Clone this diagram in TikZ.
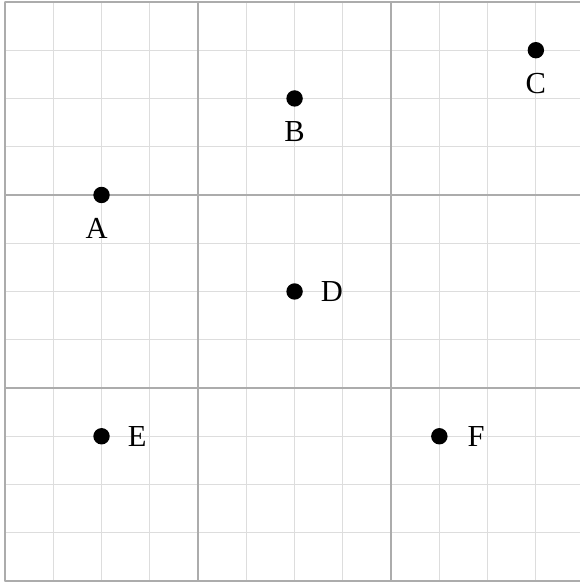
\documentclass[tikz,border=0pt]{standalone}
\usepackage{fontspec}
\setmainfont{Liberation Serif}
\usetikzlibrary{positioning}
\begin{document}
\begin{tikzpicture}[x=1cm,y=1cm,line join=round,line cap=round,
	minor/.style={draw=gray!27,line width=0.5pt},
	major/.style={draw=gray!65,line width=0.8pt},
	dot/.style={circle,fill=black,inner sep=0pt,minimum size=0.34cm},
	lbl/.style={inner sep=0pt,font=\fontsize{18}{20}\selectfont}]
	\useasboundingbox (-0.104,-0.02) rectangle (11.896,12.04);
	\draw[minor] (0,0) grid (12,12);
	\draw[major,step=4] (0,0) grid (12,12);
	\node[dot] (A) at (2,8) {};
	\node[dot] (B) at (6,10) {};
	\node[dot] (C) at (11,11) {};
	\node[dot] (D) at (6,6) {};
	\node[dot] (E) at (2,3) {};
	\node[dot] (F) at (9,3) {};
	\node[lbl,below=0.3cm of A,xshift=-0.1cm] (lA) {A};
	\node[lbl,below=0.3cm of B] (lB) {B};
	\node[lbl,below=0.3cm of C] (lC) {C};
	\node[lbl,right=0.36cm of D] (lD) {D};
	\node[lbl,right=0.36cm of E] (lE) {E};
	\node[lbl,right=0.4cm of F] (lF) {F};
\end{tikzpicture}
\end{document}
